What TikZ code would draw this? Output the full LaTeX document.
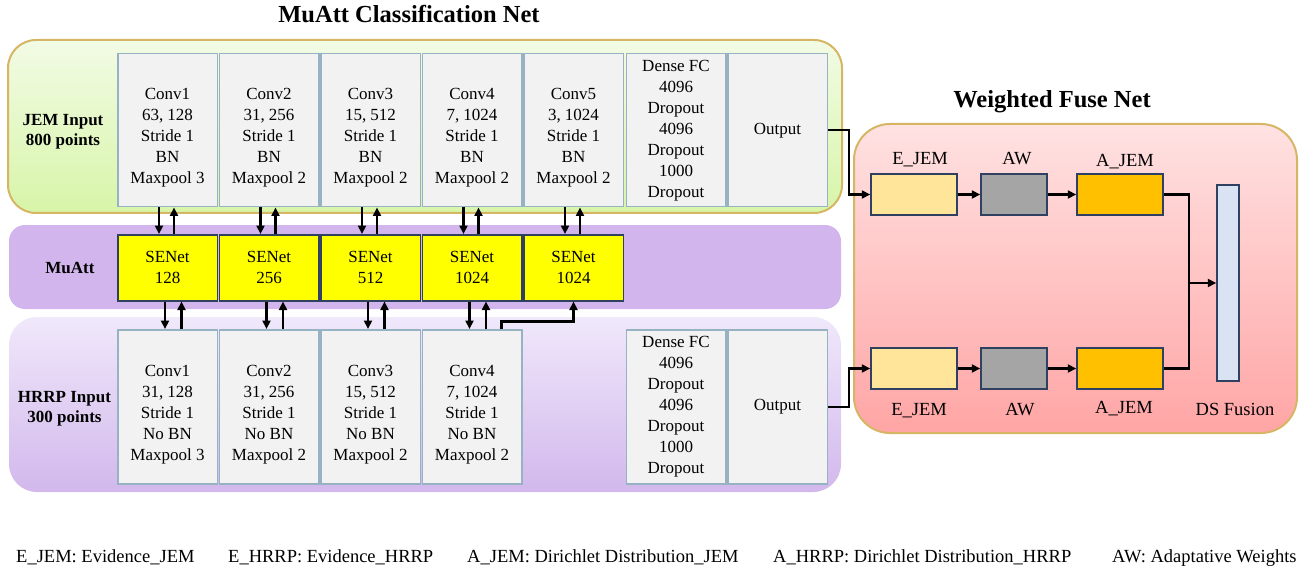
\documentclass[tikz,border=0pt]{standalone}
\usepackage{fontspec}
\setmainfont{Liberation Serif}
\usetikzlibrary{arrows.meta,calc}
\definecolor{convf}{RGB}{242,242,242}
\definecolor{convb}{RGB}{150,178,195}
\definecolor{navyb}{RGB}{47,64,96}
\definecolor{tanb}{RGB}{214,182,100}
\definecolor{greenT}{RGB}{242,251,229}
\definecolor{greenB}{RGB}{215,245,168}
\definecolor{muatt}{RGB}{209,181,236}
\definecolor{hrrpT}{RGB}{240,232,251}
\definecolor{hrrpB}{RGB}{210,184,236}
\definecolor{fuseT}{RGB}{255,226,226}
\definecolor{fuseB}{RGB}{255,165,165}
\definecolor{ejf}{RGB}{255,229,153}
\definecolor{awf}{RGB}{165,165,165}
\definecolor{ajf}{RGB}{255,192,0}
\definecolor{dsf}{RGB}{218,227,243}
\definecolor{senf}{RGB}{255,255,0}
\tikzset{
  panel/.style={inner sep=0pt, line width=2pt},
  conv/.style={draw=convb, fill=convf, line width=1.5pt, minimum width=99.5pt, anchor=north west, inner sep=0pt, align=center, font=\rmfamily\fontsize{17}{21}\selectfont},
  ctext/.style={align=center, inner sep=0pt, font=\rmfamily\fontsize{17}{21}\selectfont},
  senet/.style={draw=navyb, fill=senf, line width=1.5pt, minimum width=99.5pt, minimum height=66pt, anchor=north west, inner sep=0pt, align=center, font=\rmfamily\fontsize{17}{21}\selectfont},
  fbox/.style={draw=navyb, line width=1.5pt, minimum height=41pt, inner sep=0pt},
  flab/.style={anchor=base, inner sep=0pt, font=\rmfamily\fontsize{18.5}{22}\selectfont},
  sidelab/.style={align=center, inner sep=0pt, font=\rmfamily\fontsize{17}{20}\selectfont\bfseries},
  ttl/.style={anchor=base, inner sep=0pt, font=\rmfamily\fontsize{24.5}{28}\selectfont\bfseries},
  leg/.style={anchor=base west, inner sep=0pt, font=\rmfamily\fontsize{18.5}{22}\selectfont},
  arr/.style={line width=2.2pt, -{Triangle[length=8.5pt,width=8pt]}},
  ln/.style={line width=2.2pt}
}
\begin{document}
\begin{tikzpicture}[x=1pt,y=-1pt]
\useasboundingbox (0,0) rectangle (1306,572);
% panels
\node[panel, draw=tanb, top color=greenT, bottom color=greenB, rounded corners=28pt, minimum width=834pt, minimum height=173pt] (jemp) at (425,126.5) {};
\node[panel, fill=muatt, rounded corners=16pt, minimum width=832pt, minimum height=84pt] (muattp) at (425,267) {};
\node[panel, top color=hrrpT, bottom color=hrrpB, rounded corners=28pt, minimum width=832pt, minimum height=175pt] (hrrpp) at (425,404.5) {};
\node[panel, draw=tanb, top color=fuseT, bottom color=fuseB, rounded corners=36pt, minimum width=443pt, minimum height=309pt] (fusep) at (1075.5,278.5) {};
% titles
\node[ttl] (title1) at (409,23) {MuAtt Classification Net};
\node[ttl] (title2) at (1052,108) {Weighted Fuse Net};
% side labels
\node[sidelab] (jeml) at (63,132) {JEM Input\\800 points};
\node[sidelab] (muattl) at (70,268) {MuAtt};
\node[sidelab] (hrrpl) at (64.5,409) {HRRP Input\\300 points};
% top conv boxes
\node[conv, minimum height=153pt] (t1) at (117,53) {};
\node[conv, minimum height=153pt] (t2) at (218.5,53) {};
\node[conv, minimum height=153pt] (t3) at (320,53) {};
\node[conv, minimum height=153pt] (t4) at (421.5,53) {};
\node[conv, minimum height=153pt] (t5) at (523,53) {};
\node[conv, minimum height=153pt] (t6) at (625.5,53) {Dense FC\\4096\\Dropout\\4096\\Dropout\\1000\\Dropout};
\node[conv, minimum height=153pt] (t7) at (727,53) {Output};
\node[ctext] (t1x) at ($(t1.center)+(0,7.5)$) {Conv1\\63, 128\\Stride 1\\BN\\Maxpool 3};
\node[ctext] (t2x) at ($(t2.center)+(0,7.5)$) {Conv2\\31, 256\\Stride 1\\BN\\Maxpool 2};
\node[ctext] (t3x) at ($(t3.center)+(0,7.5)$) {Conv3\\15, 512\\Stride 1\\BN\\Maxpool 2};
\node[ctext] (t4x) at ($(t4.center)+(0,7.5)$) {Conv4\\7, 1024\\Stride 1\\BN\\Maxpool 2};
\node[ctext] (t5x) at ($(t5.center)+(0,7.5)$) {Conv5\\3, 1024\\Stride 1\\BN\\Maxpool 2};
% SENet
\node[senet] (s1) at (117,234) {SENet\\128};
\node[senet] (s2) at (218.5,234) {SENet\\256};
\node[senet] (s3) at (320,234) {SENet\\512};
\node[senet] (s4) at (421.5,234) {SENet\\1024};
\node[senet] (s5) at (523,234) {SENet\\1024};
% bottom conv boxes
\node[conv, minimum height=154pt] (b1) at (117,329) {};
\node[conv, minimum height=154pt] (b2) at (218.5,329) {};
\node[conv, minimum height=154pt] (b3) at (320,329) {};
\node[conv, minimum height=154pt] (b4) at (421.5,329) {};
\node[conv, minimum height=154pt] (b6) at (625.5,329) {Dense FC\\4096\\Dropout\\4096\\Dropout\\1000\\Dropout};
\node[conv, minimum height=154pt] (b7) at (727,329) {Output};
\node[ctext] (b1x) at ($(b1.center)+(0,8)$) {Conv1\\31, 128\\Stride 1\\No BN\\Maxpool 3};
\node[ctext] (b2x) at ($(b2.center)+(0,8)$) {Conv2\\31, 256\\Stride 1\\No BN\\Maxpool 2};
\node[ctext] (b3x) at ($(b3.center)+(0,8)$) {Conv3\\15, 512\\Stride 1\\No BN\\Maxpool 2};
\node[ctext] (b4x) at ($(b4.center)+(0,8)$) {Conv4\\7, 1024\\Stride 1\\No BN\\Maxpool 2};
% arrows conv <-> senet
\foreach \i in {1,...,5}{
  \draw[arr] ($(t\i.south)+(-8.5,0)$) -- ($(s\i.north)+(-8.5,0)$);
  \draw[arr] ($(s\i.north)+(6.5,0)$) -- ($(t\i.south)+(6.5,0)$);
}
\foreach \i in {1,...,4}{
  \draw[arr] ($(s\i.south)+(-2.5,0)$) -- ($(b\i.north)+(-2.5,0)$);
  \draw[arr] ($(b\i.north)+(14,0)$) -- ($(s\i.south)+(14,0)$);
}
\draw[arr] ($(b4.north)+(29.5,0)$) |- ($(s5.south)+(0,20)$) -- (s5.south);
% fuse net
\node[fbox, fill=ejf, minimum width=86pt] (ej1) at (914,194.5) {};
\node[fbox, fill=awf, minimum width=66pt] (aw1) at (1014,194.5) {};
\node[fbox, fill=ajf, minimum width=86pt] (aj1) at (1120,194.5) {};
\node[fbox, fill=ejf, minimum width=86pt] (ej2) at (914,368.5) {};
\node[fbox, fill=awf, minimum width=66pt] (aw2) at (1014,368.5) {};
\node[fbox, fill=ajf, minimum width=86pt] (aj2) at (1120,368.5) {};
\node[fbox, fill=dsf, minimum width=22pt, minimum height=196pt] (ds) at (1228,283) {};
\node[flab] (lej1) at (920,165) {E\_JEM};
\node[flab] (law1) at (1017,165) {AW};
\node[flab] (laj1) at (1125,167) {A\_JEM};
\node[flab] (lej2) at (919,415) {E\_JEM};
\node[flab] (law2) at (1020,415) {AW};
\node[flab] (laj2) at (1124,413) {A\_JEM};
\node[flab] (lds) at (1235,415) {DS Fusion};
\draw[arr] (t7.east) -- ++(21,0) |- (ej1.west);
\draw[arr] (b7.east) -- ++(21,0) |- (ej2.west);
\draw[arr] (ej1) -- (aw1);
\draw[arr] (aw1) -- (aj1);
\draw[arr] (ej2) -- (aw2);
\draw[arr] (aw2) -- (aj2);
\coordinate (jn) at ($(ds.west)+(-27,0)$);
\draw[ln] (aj1.east) -| (jn);
\draw[ln] (aj2.east) -| (jn);
\draw[arr] (jn) -- (ds.west);
% legend
\node[leg] (g1) at (16,562) {E\_JEM: Evidence\_JEM};
\node[leg] (g2) at (228,562) {E\_HRRP: Evidence\_HRRP};
\node[leg] (g3) at (467,562) {A\_JEM: Dirichlet Distribution\_JEM};
\node[leg] (g4) at (773,562) {A\_HRRP: Dirichlet Distribution\_HRRP};
\node[leg] (g5) at (1112,562) {AW: Adaptative Weights};
\end{tikzpicture}
\end{document}
